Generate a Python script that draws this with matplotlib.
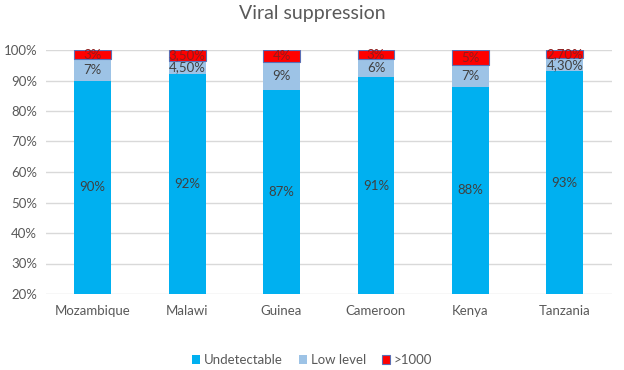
import matplotlib
matplotlib.use("Agg")
import matplotlib.pyplot as plt
import numpy as np

countries = ["Mozambique", "Malawi", "Guinea", "Cameroon", "Kenya", "Tanzania"]
undetectable = [90, 92, 87, 91, 88, 93]
low_level = [7, 4.5, 9, 6, 7, 4.3]
over_1000 = [3, 3.5, 4, 3, 5, 2.7]
undet_labels = ["90%", "92%", "87%", "91%", "88%", "93%"]
low_labels = ["7%", "4,50%", "9%", "6%", "7%", "4,30%"]
high_labels = ["3%", "3,50%", "4%", "3%", "5%", "2,70%"]
yticks = [20, 30, 40, 50, 60, 70, 80, 90, 100]

plt.rcParams['font.family'] = ['Lato', 'DejaVu Sans']

fig = plt.figure(figsize=(6.24, 3.70), dpi=100)
ax = fig.add_axes([45.5/624, 1-294/370, (612-45.5)/624, (294-50)/370])

x = np.arange(len(countries))
w = 0.39
c1, c2, c3 = "#00B0F0", "#9DC3E6", "#FF0000"
ax.bar(x, undetectable, w, color=c1, zorder=3, label="Undetectable")
ax.bar(x, low_level, w, bottom=undetectable, color=c2, zorder=3, label="Low level")
bot3 = [a + b for a, b in zip(undetectable, low_level)]
ax.bar(x, over_1000, w, bottom=bot3, color=c3, edgecolor="#5B6FB5", linewidth=0.8, zorder=3, label=">1000")

for i in range(len(countries)):
    ax.text(x[i], 20 + (undetectable[i]-20)/2, undet_labels[i], ha="center", va="center",
            fontsize=9.5, color="#404040", zorder=4)
    ax.text(x[i], undetectable[i] + low_level[i]/2, low_labels[i], ha="center", va="center",
            fontsize=9.5, color="#404040", zorder=4)
    ax.text(x[i], bot3[i] + over_1000[i]/2, high_labels[i], ha="center", va="center",
            fontsize=9.5, color="#8E1C1C", zorder=4)

ax.set_ylim(20, 100)
ax.set_xlim(-0.5, len(countries)-0.5)
ax.set_yticks(yticks)
ax.set_yticklabels([f"{v}%" for v in yticks])
ax.set_xticks(x)
ax.set_xticklabels(countries)
ax.tick_params(axis="both", length=0, labelsize=9.5, colors="#595959")
ax.tick_params(axis="x", pad=8)
ax.tick_params(axis="y", pad=6)
ax.yaxis.grid(True, color="#D9D9D9", linewidth=1, zorder=0)
for s in ax.spines.values():
    s.set_visible(False)

fig.text(0.5, 1-14/370, "Viral suppression", ha="center", va="center", fontsize=14, color="#595959")

handles = [plt.Rectangle((0, 0), 1, 1, facecolor=c1),
           plt.Rectangle((0, 0), 1, 1, facecolor=c2),
           plt.Rectangle((0, 0), 1, 1, facecolor=c3, edgecolor="#5B6FB5", linewidth=0.8)]
fig.legend(handles, ["Undetectable", "Low level", ">1000"], loc="center",
           bbox_to_anchor=(0.5, 1-360/370), ncol=3, frameon=False, fontsize=9.5,
           handlelength=0.6, handleheight=0.6, handletextpad=0.3, columnspacing=1.2,
           labelcolor="#595959")

fig.savefig("out.png", dpi=100)
